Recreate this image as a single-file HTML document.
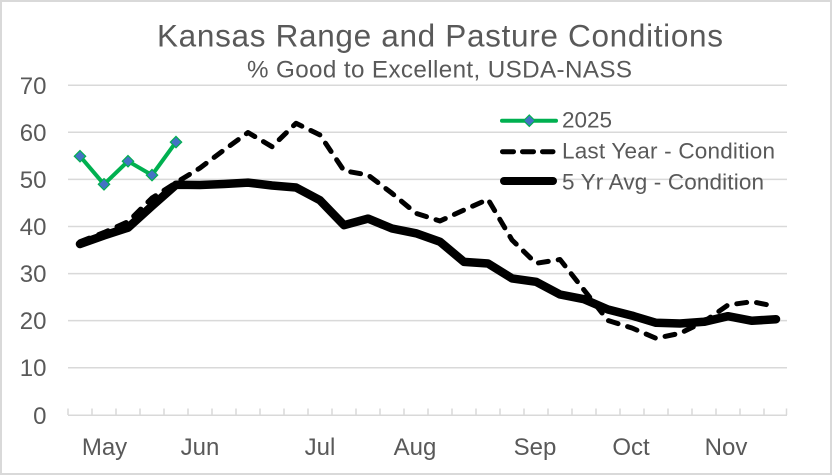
<!DOCTYPE html>
<html>
<head>
<meta charset="utf-8">
<style>
html,body{margin:0;padding:0;background:#fff;}
svg{display:block;}
text{font-family:"Liberation Sans",Arial,sans-serif;fill:#595959;}
</style>
</head>
<body>
<svg width="833" height="476" viewBox="0 0 833 476" xmlns="http://www.w3.org/2000/svg">
<rect x="0" y="0" width="833" height="476" fill="#fff"/>
<rect x="1" y="1" width="830" height="473" fill="none" stroke="#d9d9d9" stroke-width="2"/>

<!-- Title -->
<text x="440" y="46.5" font-size="31.5" text-anchor="middle" textLength="566" lengthAdjust="spacing">Kansas Range and Pasture Conditions</text>
<text x="439.5" y="77.5" font-size="24.2" text-anchor="middle" textLength="385" lengthAdjust="spacing">% Good to Excellent, USDA-NASS</text>

<!-- Gridlines -->
<g stroke="#d9d9d9" stroke-width="1.5">
<line x1="68" y1="85.3" x2="787" y2="85.3"/>
<line x1="68" y1="132.3" x2="787" y2="132.3"/>
<line x1="68" y1="179.4" x2="787" y2="179.4"/>
<line x1="68" y1="226.5" x2="787" y2="226.5"/>
<line x1="68" y1="273.6" x2="787" y2="273.6"/>
<line x1="68" y1="320.6" x2="787" y2="320.6"/>
<line x1="68" y1="367.7" x2="787" y2="367.7"/>
<line x1="68" y1="415.3" x2="787" y2="415.3"/>
</g>
<!-- Ticks -->
<g stroke="#d9d9d9" stroke-width="1.5">
<line x1="68" y1="408.5" x2="68" y2="415"/>
<line x1="92" y1="408.5" x2="92" y2="415"/>
<line x1="116" y1="408.5" x2="116" y2="415"/>
<line x1="140" y1="408.5" x2="140" y2="415"/>
<line x1="164" y1="408.5" x2="164" y2="415"/>
<line x1="188" y1="408.5" x2="188" y2="415"/>
<line x1="212" y1="408.5" x2="212" y2="415"/>
<line x1="236" y1="408.5" x2="236" y2="415"/>
<line x1="260" y1="408.5" x2="260" y2="415"/>
<line x1="284" y1="408.5" x2="284" y2="415"/>
<line x1="308" y1="408.5" x2="308" y2="415"/>
<line x1="332" y1="408.5" x2="332" y2="415"/>
<line x1="356" y1="408.5" x2="356" y2="415"/>
<line x1="380" y1="408.5" x2="380" y2="415"/>
<line x1="404" y1="408.5" x2="404" y2="415"/>
<line x1="428" y1="408.5" x2="428" y2="415"/>
<line x1="452" y1="408.5" x2="452" y2="415"/>
<line x1="476" y1="408.5" x2="476" y2="415"/>
<line x1="500" y1="408.5" x2="500" y2="415"/>
<line x1="524" y1="408.5" x2="524" y2="415"/>
<line x1="548" y1="408.5" x2="548" y2="415"/>
<line x1="572" y1="408.5" x2="572" y2="415"/>
<line x1="596" y1="408.5" x2="596" y2="415"/>
<line x1="620" y1="408.5" x2="620" y2="415"/>
<line x1="644" y1="408.5" x2="644" y2="415"/>
<line x1="668" y1="408.5" x2="668" y2="415"/>
<line x1="692" y1="408.5" x2="692" y2="415"/>
<line x1="716" y1="408.5" x2="716" y2="415"/>
<line x1="740" y1="408.5" x2="740" y2="415"/>
<line x1="764" y1="408.5" x2="764" y2="415"/>
<line x1="786.5" y1="408.5" x2="786.5" y2="415"/>
</g>

<!-- Y labels -->
<g font-size="24" text-anchor="end">
<text x="46.5" y="94">70</text>
<text x="46.5" y="141">60</text>
<text x="46.5" y="188">50</text>
<text x="46.5" y="235">40</text>
<text x="46.5" y="282">30</text>
<text x="46.5" y="329">20</text>
<text x="46.5" y="376">10</text>
<text x="46.5" y="424">0</text>
</g>

<!-- X labels -->
<g font-size="24" text-anchor="middle">
<text x="104.5" y="455">May</text>
<text x="200" y="455">Jun</text>
<text x="320" y="455">Jul</text>
<text x="415" y="455">Aug</text>
<text x="535" y="455">Sep</text>
<text x="631" y="455">Oct</text>
<text x="726" y="455">Nov</text>
</g>

<!-- 5 Yr Avg -->
<polyline fill="none" stroke="#000" stroke-width="8.5" stroke-linejoin="round" stroke-linecap="round"
points="80,244 104,235.5 128,227.7 152,206 176,184.8 200,185 224,184 248,182.6 272,185.5 296,187.5 320,200.3 344,225.2 368,218.6 392,228.5 416,233.3 440,241.7 464,261.9 488,263.5 512,278.4 536,281.8 560,294.5 584,299.2 608,309.5 632,315.6 656,322.8 680,323.5 704,321.8 728,316.2 752,320.8 776,319.2"/>

<!-- Last Year -->
<polyline fill="none" stroke="#000" stroke-width="5" stroke-linejoin="round" stroke-linecap="round" stroke-dasharray="10 10"
points="80,241.7 104,232.5 128,221.7 152,198 176,182.7 200,168 224,150 248,132.5 272,146.7 296,123.3 320,135 344,170.7 368,175 392,193.3 416,213.3 440,221 464,210 488,199.3 512,240 536,263.3 560,259.5 584,290 608,320.5 632,328 656,338.3 680,333.3 704,321.7 728,305 752,301.7 776,306.5"/>

<!-- 2025 -->
<polyline fill="none" stroke="#00B050" stroke-width="4" stroke-linejoin="round" stroke-linecap="round"
points="80,156.2 104,184.3 128,161.2 152,175.1 176,142.1"/>
<g fill="#4472C4" stroke="#00B050" stroke-width="1.2">
<polygon points="80,150.5 85.7,156.2 80,161.9 74.3,156.2"/>
<polygon points="104,178.6 109.7,184.3 104,190 98.3,184.3"/>
<polygon points="128,155.5 133.7,161.2 128,166.9 122.3,161.2"/>
<polygon points="152,169.4 157.7,175.1 152,180.8 146.3,175.1"/>
<polygon points="176,136.4 181.7,142.1 176,147.8 170.3,142.1"/>
</g>

<!-- Legend -->
<line x1="502" y1="120.7" x2="556" y2="120.7" stroke="#00B050" stroke-width="4" stroke-linecap="round"/>
<polygon points="529.3,115 535,120.7 529.3,126.4 523.6,120.7" fill="#4472C4" stroke="#00B050" stroke-width="1.2"/>
<line x1="502.5" y1="151.7" x2="553" y2="151.7" stroke="#000" stroke-width="5" stroke-linecap="round" stroke-dasharray="11 9"/>
<line x1="504" y1="181" x2="553" y2="181" stroke="#000" stroke-width="8" stroke-linecap="round"/>
<g font-size="22.5">
<text x="562" y="127.7">2025</text>
<text x="562" y="158.3" textLength="213" lengthAdjust="spacing">Last Year - Condition</text>
<text x="562" y="189.3" textLength="202" lengthAdjust="spacing">5 Yr Avg - Condition</text>
</g>
</svg>
</body>
</html>
